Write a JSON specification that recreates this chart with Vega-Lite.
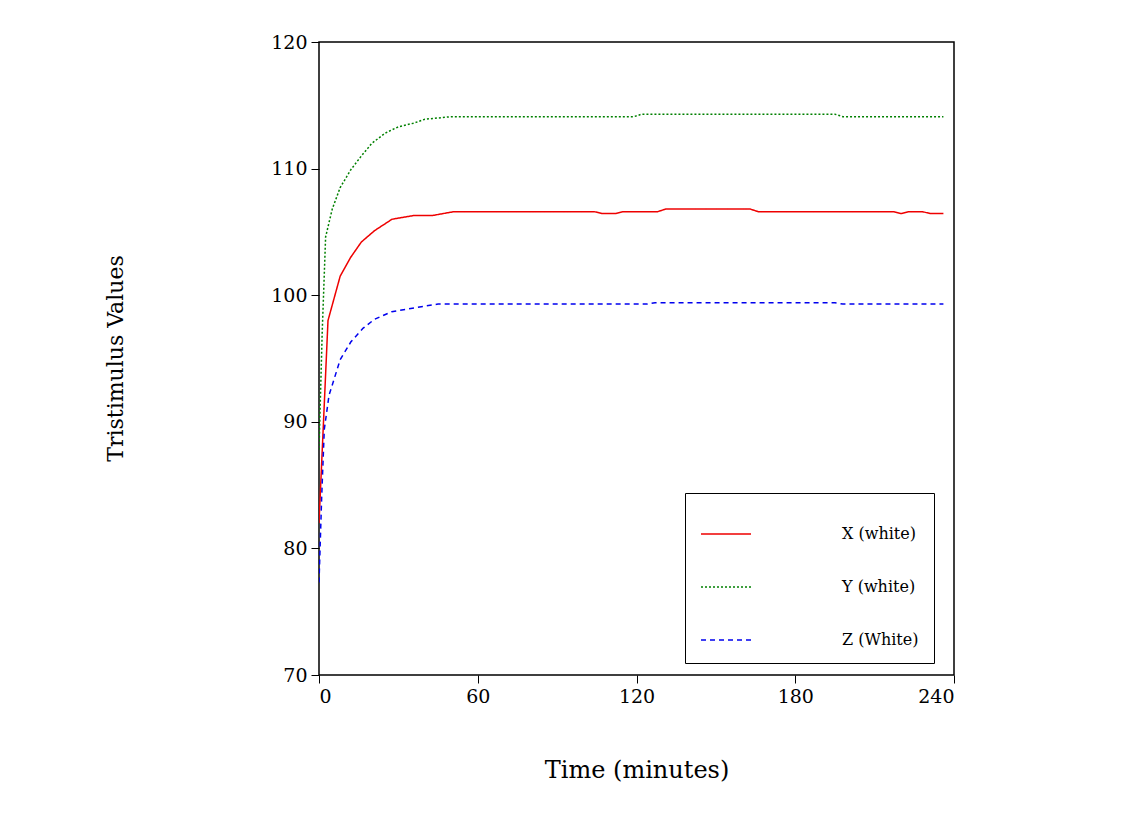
{
  "$schema": "https://vega.github.io/schema/vega-lite/v6.json",
  "width": 635,
  "height": 633,
  "autosize": "none",
  "padding": {"left": 319, "top": 42, "right": 182, "bottom": 150},
  "background": "white",
  "config": {
    "view": {"stroke": "black", "strokeWidth": 1.5},
    "font": "DejaVu Serif"
  },
  "data": {
    "values": [
      {"t": 0, "v": 82.0, "s": "X (white)"},
      {"t": 3.4, "v": 98.0, "s": "X (white)"},
      {"t": 8, "v": 101.5, "s": "X (white)"},
      {"t": 12, "v": 103.0, "s": "X (white)"},
      {"t": 16, "v": 104.2, "s": "X (white)"},
      {"t": 21, "v": 105.1, "s": "X (white)"},
      {"t": 27.6, "v": 106.0, "s": "X (white)"},
      {"t": 36, "v": 106.3, "s": "X (white)"},
      {"t": 43, "v": 106.3, "s": "X (white)"},
      {"t": 51, "v": 106.6, "s": "X (white)"},
      {"t": 104, "v": 106.6, "s": "X (white)"},
      {"t": 107, "v": 106.45, "s": "X (white)"},
      {"t": 112, "v": 106.45, "s": "X (white)"},
      {"t": 115, "v": 106.6, "s": "X (white)"},
      {"t": 128, "v": 106.6, "s": "X (white)"},
      {"t": 131, "v": 106.8, "s": "X (white)"},
      {"t": 163, "v": 106.8, "s": "X (white)"},
      {"t": 166, "v": 106.6, "s": "X (white)"},
      {"t": 217, "v": 106.6, "s": "X (white)"},
      {"t": 220, "v": 106.45, "s": "X (white)"},
      {"t": 223, "v": 106.6, "s": "X (white)"},
      {"t": 228, "v": 106.6, "s": "X (white)"},
      {"t": 231, "v": 106.45, "s": "X (white)"},
      {"t": 236, "v": 106.45, "s": "X (white)"},
      {"t": 0, "v": 87.8, "s": "Y (white)"},
      {"t": 1.2, "v": 97.0, "s": "Y (white)"},
      {"t": 2.5, "v": 104.6, "s": "Y (white)"},
      {"t": 5, "v": 106.8, "s": "Y (white)"},
      {"t": 8, "v": 108.5, "s": "Y (white)"},
      {"t": 12, "v": 109.9, "s": "Y (white)"},
      {"t": 16, "v": 111.0, "s": "Y (white)"},
      {"t": 20, "v": 112.0, "s": "Y (white)"},
      {"t": 25, "v": 112.8, "s": "Y (white)"},
      {"t": 30, "v": 113.3, "s": "Y (white)"},
      {"t": 36, "v": 113.6, "s": "Y (white)"},
      {"t": 40, "v": 113.9, "s": "Y (white)"},
      {"t": 50, "v": 114.1, "s": "Y (white)"},
      {"t": 119, "v": 114.1, "s": "Y (white)"},
      {"t": 122, "v": 114.3, "s": "Y (white)"},
      {"t": 195, "v": 114.3, "s": "Y (white)"},
      {"t": 198, "v": 114.1, "s": "Y (white)"},
      {"t": 236, "v": 114.1, "s": "Y (white)"},
      {"t": 0, "v": 77.3, "s": "Z (White)"},
      {"t": 1, "v": 84.0, "s": "Z (White)"},
      {"t": 2, "v": 89.4, "s": "Z (White)"},
      {"t": 3.8, "v": 92.1, "s": "Z (White)"},
      {"t": 8, "v": 94.9, "s": "Z (White)"},
      {"t": 12, "v": 96.3, "s": "Z (White)"},
      {"t": 16.7, "v": 97.4, "s": "Z (White)"},
      {"t": 21, "v": 98.1, "s": "Z (White)"},
      {"t": 27.5, "v": 98.7, "s": "Z (White)"},
      {"t": 36, "v": 99.0, "s": "Z (White)"},
      {"t": 45, "v": 99.3, "s": "Z (White)"},
      {"t": 124, "v": 99.3, "s": "Z (White)"},
      {"t": 127, "v": 99.4, "s": "Z (White)"},
      {"t": 195, "v": 99.4, "s": "Z (White)"},
      {"t": 198, "v": 99.3, "s": "Z (White)"},
      {"t": 236, "v": 99.3, "s": "Z (White)"}
    ]
  },
  "mark": {"type": "line", "strokeWidth": 1.5, "clip": true},
  "encoding": {
    "x": {
      "field": "t", "type": "quantitative",
      "scale": {"domain": [0, 240], "nice": false},
      "axis": {
        "values": [0, 60, 120, 180, 240], "grid": false, "domain": false,
        "tickColor": "black", "tickSize": 8, "labelFontSize": 19, "labelColor": "black",
        "labelFont": "DejaVu Serif", "labelPadding": 4,
        "title": "Time (minutes)", "titleFontSize": 24, "titleFontWeight": "normal",
        "titleFont": "DejaVu Serif", "titleColor": "black", "titleY": 95, "titleBaseline": "middle"
      }
    },
    "y": {
      "field": "v", "type": "quantitative",
      "scale": {"domain": [70, 120], "nice": false, "zero": false},
      "axis": {
        "values": [70, 80, 90, 100, 110, 120], "grid": false, "domain": false,
        "tickColor": "black", "tickSize": 8, "labelFontSize": 19, "labelColor": "black",
        "labelFont": "DejaVu Serif", "labelPadding": 4,
        "title": "Tristimulus Values", "titleFontSize": 22, "titleFontWeight": "normal",
        "titleFont": "DejaVu Serif", "titleColor": "black",
        "titleX": -204, "titleY": 316, "titleAngle": -90, "titleBaseline": "middle", "titleAlign": "center"
      }
    },
    "color": {
      "field": "s", "type": "nominal",
      "scale": {"domain": ["X (white)", "Y (white)", "Z (White)"], "range": ["#ee0000", "#008000", "#0000ee"]},
      "legend": {
        "title": null, "orient": "none", "legendX": 366, "legendY": 451,
        "padding": 15, "strokeColor": "black", "fillColor": "white",
        "symbolType": "stroke", "symbolSize": 2500, "symbolStrokeWidth": 1.5,
        "labelFontSize": 16, "labelFont": "DejaVu Serif", "labelColor": "black",
        "labelOffset": 90, "rowPadding": 19, "labelLimit": 200
      }
    },
    "strokeDash": {
      "field": "s", "type": "nominal",
      "scale": {"domain": ["X (white)", "Y (white)", "Z (White)"], "range": [[1, 0], [2, 2], [5, 4]]},
      "legend": null
    }
  }
}
